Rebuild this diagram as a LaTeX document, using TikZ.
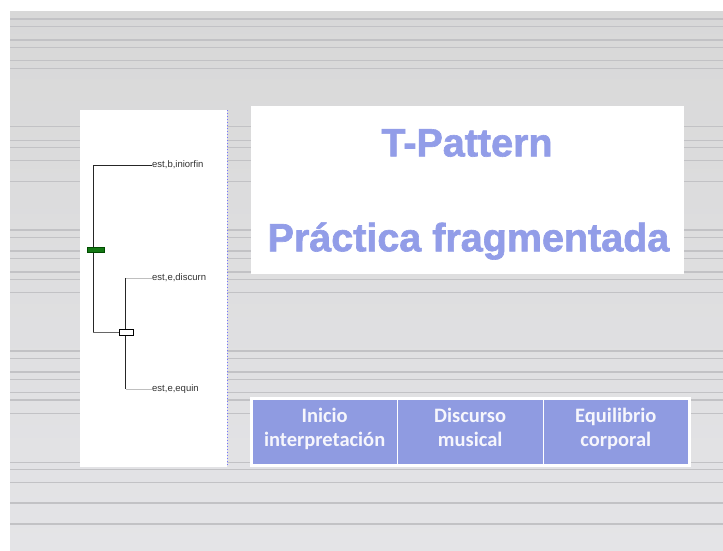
\documentclass[tikz,border=0pt]{standalone}
\usepackage{fontspec}
\setmainfont{Liberation Sans}
\newfontfamily\calib{Carlito}
\newfontfamily\titlefont[FakeBold=1.6]{Liberation Sans Bold}
\definecolor{bgtop}{RGB}{216,216,216}
\definecolor{bgbot}{RGB}{228,228,231}
\definecolor{rulecol}{RGB}{194,194,197}
\definecolor{titleblue}{RGB}{146,157,232}
\definecolor{cellblue}{RGB}{143,155,225}
\definecolor{celltext}{RGB}{246,246,252}
\definecolor{barfill}{RGB}{20,120,20}
\newcommand{\cellstrut}{\vrule width 0pt height 15pt depth 5pt}
\tikzset{
  bgrule/.style={draw=rulecol, line width=1.2pt},
  treeline/.style={draw=black!85, line width=1pt},
  leafline/.style={draw=black!25, line width=1pt},
  leaflabel/.style={anchor=west, inner sep=0pt, font=\fontsize{9.5}{11}\selectfont, text=black!80},
  titletext/.style={inner sep=0pt, text=titleblue, font=\titlefont\fontsize{39.5}{44}\selectfont},
  cell/.style={fill=cellblue, draw=white, line width=1pt, minimum height=64.7pt, inner sep=0pt},
  celllabel/.style={inner sep=0pt, align=center, text=celltext, font=\calib\fontsize{20.5}{24}\selectfont\bfseries}
}
\begin{document}
\begin{tikzpicture}[x=1pt,y=-1pt]
\useasboundingbox (0,0) rectangle (723,550);
\fill[white] (0,0) rectangle (723,550);
\shade[top color=bgtop,bottom color=bgbot] (10,11) rectangle (723,550);
\foreach \yy in {19,26.7,40,47.3,60.7,68.3,126.7,140.3,147.7,160.7,181.3,230,237.3,251,258.7,272,279.3,292.7,351,358.3,372,379.3,392.7,400,413.3,462.3,469.7,482.7,503,524}
  \draw[bgrule] (10,\yy) -- (723,\yy);
% left panel
\fill[white] (80,110) rectangle (227,467);
\draw[dotted, draw=blue!55, line width=1pt] (227.7,110) -- (227.7,466);
% tree
\coordinate (rtop) at (93.3,165);
\coordinate (rbot) at (93.3,332);
\coordinate (stop) at (125.5,278);
\coordinate (sbot) at (125.5,389);
\node[leaflabel] (l1) at (152,165) {est,b,iniorfin};
\node[leaflabel] (l2) at (152,278) {est,e,discurn};
\node[leaflabel] (l3) at (152,389) {est,e,equin};
\draw[treeline] (l1.west) -- (rtop) -- (rbot);
\draw[leafline] (l2.west) -- (stop);
\draw[leafline] (l3.west) -- (sbot);
\draw[treeline] (stop) -- (sbot);
\node[draw=black, fill=white, line width=0.8pt, minimum width=14pt, minimum height=6pt, inner sep=0pt] (box) at (126,332) {};
\draw[treeline, draw=black!60] (rbot) -- (box.west);
\node[draw=black!70!green, fill=barfill, line width=0.6pt, minimum width=16.5pt, minimum height=5pt, inner sep=0pt] (bar) at (95.7,249.3) {};
% title panel
\fill[white] (251,106) rectangle (684,274);
\node[titletext] (t1) at (467,143) {T-Pattern};
\node[titletext] (t2) at (468.5,241) {Práctica fragmentada};
% table
\fill[white] (250,397) rectangle (690.5,466.5);
\node[cell, minimum width=144.7pt] (c1) at (324.65,431.65) {};
\node[cell, minimum width=146.3pt] (c2) at (470.15,431.65) {};
\node[cell, minimum width=145pt] (c3) at (615.8,431.65) {};
\node[celllabel] (c1t) at (324.65,429.5) {\cellstrut Inicio\\\cellstrut interpretación};
\node[celllabel] (c2t) at (470.15,429.5) {\cellstrut Discurso\\\cellstrut musical};
\node[celllabel] (c3t) at (615.8,429.5) {\cellstrut Equilibrio\\\cellstrut corporal};
\end{tikzpicture}
\end{document}
